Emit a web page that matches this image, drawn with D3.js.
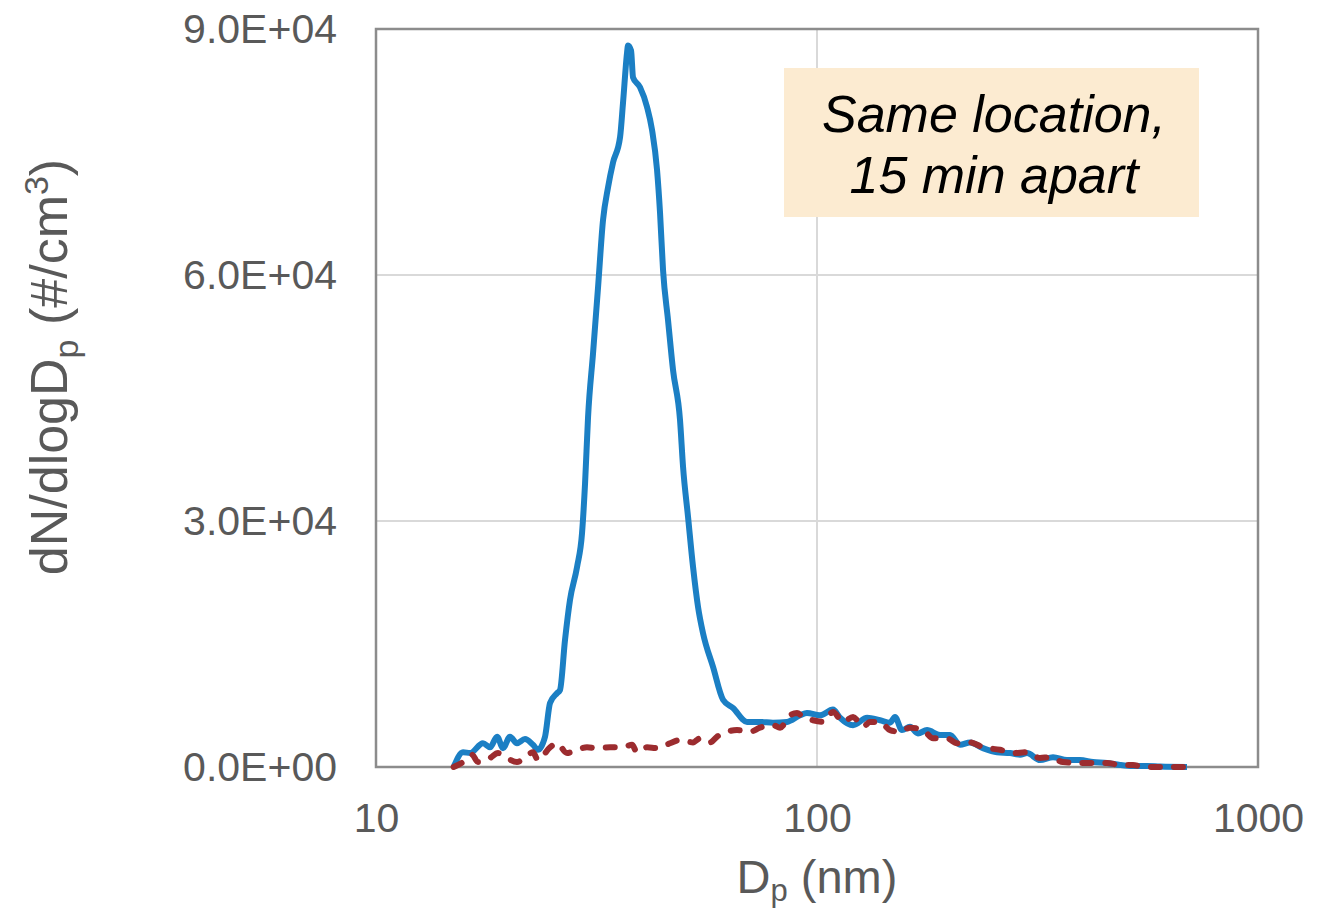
<!DOCTYPE html>
<html>
<head>
<meta charset="utf-8">
<script src="https://cdn.jsdelivr.net/npm/d3@7"></script>
<style>
  body { margin: 0; background: #fff; }
  svg { font-family: "Liberation Sans", Arial, sans-serif; }
</style>
</head>
<body>
<svg class="chart" width="1330" height="910"></svg>
<script>
// particle size (nm) and dN/dlogDp
var blueDp = [15.0, 15.75, 16.34, 17.48, 18.14, 18.82, 19.41, 20.13, 20.88, 21.77, 22.70, 23.29, 24.17, 24.81, 25.73, 26.14,
    26.83, 27.54, 28.57, 29.32, 29.79, 30.26, 31.06, 31.88, 32.72, 33.59, 34.47, 35.76, 36.32, 37.09, 37.28, 37.87,
    38.27, 39.69, 41.17, 42.26, 43.38, 44.06, 44.76, 45.94, 47.16, 48.91, 49.69, 51.00, 52.35, 53.74, 55.16, 58.11,
    61.22, 64.50, 69.39, 74.25, 79.47, 85.50, 91.51, 94.91, 101.6, 108.7, 112.8, 120.7, 129.9, 139.0, 146.4, 150.3,
    155.8, 162.5, 169.4, 177.6, 190.1, 200.3, 211.0, 222.3, 237.9, 256.0, 274.0, 288.7, 299.4, 320.4, 342.9, 368.9,
    394.8, 422.5, 454.6, 486.6, 520.8, 560.3, 599.6, 690.2];
var blueN = [0, 1800, 1700, 2900, 2400, 3700, 2300, 3700, 2900, 3400, 2700, 2100, 3700, 7800, 9000, 9400,
    15500, 20400, 24400, 28500, 34600, 42700, 50500, 58500, 66700, 70700, 73700, 76800, 81000, 87100, 88000, 87400,
    84100, 82900, 80500, 77700, 72800, 67600, 60600, 54500, 48400, 42300, 36600, 30500, 24400, 19500, 16300, 12200,
    8200, 7200, 5500, 5500, 5400, 5500, 6300, 6600, 6300, 7000, 6000, 5100, 6000, 5700, 5400, 6100,
    4500, 4900, 4100, 4500, 3900, 3900, 2700, 3000, 2300, 1800, 1700, 1500, 1700, 850, 1200, 850,
    850, 600, 500, 250, 120, 120, 50, 0];

var redDp = [15.0, 15.75, 16.51, 17.03, 18.14, 18.91, 19.82, 20.88, 21.77, 22.70, 23.29, 24.81, 25.73, 27.11, 28.57, 30.09,
    31.71, 33.94, 36.13, 38.06, 39.07, 41.17, 43.38, 46.42, 48.91, 52.35, 54.29, 57.22, 59.34, 62.50, 65.86, 70.48,
    74.25, 79.47, 82.45, 86.87, 90.08, 92.96, 97.92, 103.2, 108.7, 114.6, 120.7, 127.2, 131.9, 139.0, 146.4, 154.3,
    162.5, 174.0, 183.3, 197.2, 207.7, 222.3, 237.9, 260.0, 278.3, 299.4, 320.4, 337.6, 361.3, 394.8, 422.5, 454.6,
    486.6, 520.8, 548.7, 599.6, 690.2];
var redN = [0, 600, 1500, 600, 1100, 1700, 1100, 600, 1200, 1800, 850, 2400, 2900, 1700, 2100, 2400,
    2300, 2400, 2400, 2700, 1800, 2400, 2300, 2900, 3300, 3000, 3500, 3000, 3700, 4300, 4500, 4300,
    4800, 5100, 4800, 6300, 6600, 6100, 5700, 5500, 6700, 5500, 6100, 4900, 5500, 5500, 4500, 4300,
    4800, 4500, 3500, 3500, 2900, 3000, 2400, 2100, 1700, 1800, 1100, 1200, 600, 500, 500, 500,
    250, 250, 0, 0, 0];

var xTicks = [10, 100, 1000];
var xTickLabels = ["10", "100", "1000"];
var yTicks = [0, 30000, 60000, 90000];
var yTickLabels = ["0.0E+00", "3.0E+04", "6.0E+04", "9.0E+04"];

var svg = d3.select(".chart");

var margin = { top: 29, right: 72, bottom: 143, left: 376 },
    width = +svg.attr("width") - margin.left - margin.right,
    height = +svg.attr("height") - margin.top - margin.bottom;

var xScale = d3.scaleLog().domain([10, 1000]).range([0, width]);
var yScale = d3.scaleLinear().domain([0, 90000]).range([height, 0]);

var chart = svg.append("g")
    .attr("transform", "translate(" + margin.left + "," + margin.top + ")");

// grid
chart.append("g").selectAll("line.hgrid")
    .data(yTicks.slice(1, 3)).enter()
    .append("line")
    .attr("x1", 0).attr("x2", width)
    .attr("y1", function (d) { return yScale(d); })
    .attr("y2", function (d) { return yScale(d); })
    .attr("stroke", "#d9d9d9").attr("stroke-width", 2);

chart.append("g").selectAll("line.vgrid")
    .data(xTicks.slice(1, 2)).enter()
    .append("line")
    .attr("y1", 0).attr("y2", height)
    .attr("x1", function (d) { return xScale(d); })
    .attr("x2", function (d) { return xScale(d); })
    .attr("stroke", "#d9d9d9").attr("stroke-width", 2);

// frame
chart.append("rect")
    .attr("width", width).attr("height", height)
    .attr("fill", "none")
    .attr("stroke", "#8c8c8c").attr("stroke-width", 2.5);

// axes
var xAxis = d3.axisBottom(xScale)
    .tickValues(xTicks)
    .tickSize(0)
    .tickPadding(36)
    .tickFormat(function (d, i) { return xTickLabels[i]; });

var yAxis = d3.axisLeft(yScale)
    .tickValues(yTicks)
    .tickSize(0)
    .tickPadding(39)
    .tickFormat(function (d, i) { return yTickLabels[i]; });

var gx = chart.append("g")
    .attr("transform", "translate(0," + height + ")")
    .call(xAxis);
var gy = chart.append("g").call(yAxis);

[gx, gy].forEach(function (g) {
    g.select(".domain").remove();
    g.selectAll("text")
        .attr("fill", "#595959")
        .style("font-size", "41px")
        .style("font-family", "Liberation Sans, Arial, sans-serif");
});

// annotation box
var note = chart.append("g");
note.append("rect")
    .attr("x", 784 - margin.left).attr("y", 39)
    .attr("width", 415).attr("height", 149)
    .attr("fill", "#fcebd1");
note.selectAll("text")
    .data(["Same location,", "15 min apart"]).enter()
    .append("text")
    .attr("x", 994 - margin.left)
    .attr("y", function (d, i) { return 103 + i * 61; })
    .attr("text-anchor", "middle")
    .style("font-size", "52px")
    .style("font-style", "italic")
    .attr("fill", "#000")
    .text(function (d) { return d; });

// lines
var line = d3.line()
    .x(function (d) { return xScale(d[0]); })
    .y(function (d) { return yScale(d[1]); })
    .curve(d3.curveMonotoneX);

var blue = blueDp.map(function (d, i) { return [d, blueN[i]]; });
var red = redDp.map(function (d, i) { return [d, redN[i]]; });

chart.append("path")
    .datum(blue)
    .attr("d", line)
    .attr("fill", "none")
    .attr("stroke", "#1b7fc4")
    .attr("stroke-width", 6)
    .attr("stroke-linejoin", "round");

chart.append("path")
    .datum(red)
    .attr("d", line)
    .attr("fill", "none")
    .attr("stroke", "#9c2c2f")
    .attr("stroke-width", 6)
    .attr("stroke-linecap", "round")
    .attr("stroke-dasharray", "9,14");

// axis titles
var xTitle = svg.append("text")
    .attr("x", margin.left + width / 2)
    .attr("y", 893)
    .attr("text-anchor", "middle")
    .attr("fill", "#595959")
    .style("font-size", "47px");
xTitle.append("tspan").text("D");
xTitle.append("tspan").attr("dy", 8).style("font-size", "31px").text("p");
xTitle.append("tspan").attr("dy", -8).text(" (nm)");

var yTitle = svg.append("text")
    .attr("transform", "translate(67," + 367 + ") rotate(-90)")
    .attr("text-anchor", "middle")
    .attr("fill", "#595959")
    .style("font-size", "52px");
yTitle.append("tspan").text("dN/dlogD");
yTitle.append("tspan").attr("dy", 11).style("font-size", "34px").text("p");
yTitle.append("tspan").attr("dy", -11).text(" (#/cm");
yTitle.append("tspan").attr("dy", -19).style("font-size", "34px").text("3");
yTitle.append("tspan").attr("dy", 19).text(")");
</script>
</body>
</html>
